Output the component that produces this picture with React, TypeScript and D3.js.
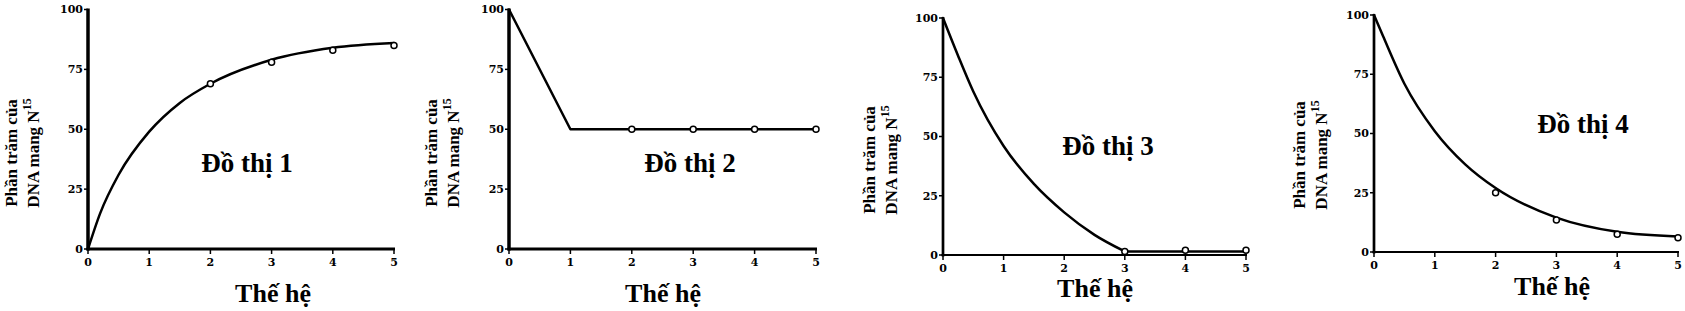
import React from "react";
import * as d3 from "d3";

// ---- data ----
const generations = [0, 1, 2, 3, 4, 5];
const yTicks = [0, 25, 50, 75, 100];
const yLabelLine1 = "Phần trăm của";
const yLabelLine2 = "DNA mang N";
const yLabelSup = "15";
const xLabel = "Thế hệ";
const titles = ["Đồ thị 1", "Đồ thị 2", "Đồ thị 3", "Đồ thị 4"];

// curve samples (generation, percent)
const curve1X = [0, 0.2, 0.5, 1, 1.5, 2, 3, 4, 5];
const curve1Y = [0, 15, 31, 49, 61, 69, 79, 84, 86];
const markers1X = [2, 3, 4, 5];
const markers1Y = [69, 78, 83, 85];

const curve2X = [0, 1, 2, 3, 4, 5];
const curve2Y = [100, 50, 50, 50, 50, 50];
const markers2X = [2, 3, 4, 5];
const markers2Y = [50, 50, 50, 50];

const curve3X = [0, 0.25, 0.5, 1, 1.5, 2, 2.5, 3, 4, 5];
const curve3Y = [100, 84, 69, 46, 30, 18, 8.5, 1.5, 1.5, 1.5];
const markers3X = [3, 4, 5];
const markers3Y = [1.5, 2, 2];

const curve4X = [0, 0.15, 0.5, 1, 1.5, 2, 3, 4, 5];
const curve4Y = [100, 91, 71, 51, 37, 27, 14.5, 8.5, 6.5];
const markers4X = [2, 3, 4, 5];
const markers4Y = [25, 13.5, 7.5, 6];

// ---- layout (per panel) ----
type Layout = {
  x0: number; x1: number; yTop: number; yBot: number;
  lab1X: number; lab2X: number; labY: number;
  titleX: number; titleY: number;
  xlabX: number; xlabY: number;
  linear: boolean; breakAt: number; axisW: number;
};

const layouts: Layout[] = [
  { x0: 88, x1: 394, yTop: 9.5, yBot: 249, lab1X: 11, lab2X: 33, labY: 153, titleX: 247, titleY: 172, xlabX: 273, xlabY: 302, linear: false, breakAt: 99, axisW: 3 },
  { x0: 509, x1: 816, yTop: 9.5, yBot: 249, lab1X: 431, lab2X: 453, labY: 153, titleX: 690, titleY: 172, xlabX: 663, xlabY: 302, linear: true, breakAt: 99, axisW: 3 },
  { x0: 943, x1: 1246, yTop: 18, yBot: 255, lab1X: 869, lab2X: 891, labY: 160, titleX: 1108, titleY: 155, xlabX: 1095, xlabY: 297, linear: false, breakAt: 3, axisW: 2.2 },
  { x0: 1374, x1: 1678, yTop: 15, yBot: 252, lab1X: 1299, lab2X: 1321, labY: 155, titleX: 1583, titleY: 133, xlabX: 1552, xlabY: 295, linear: false, breakAt: 99, axisW: 2.2 },
];

const series = [
  { cx: curve1X, cy: curve1Y, mx: markers1X, my: markers1Y },
  { cx: curve2X, cy: curve2Y, mx: markers2X, my: markers2Y },
  { cx: curve3X, cy: curve3Y, mx: markers3X, my: markers3Y },
  { cx: curve4X, cy: curve4Y, mx: markers4X, my: markers4Y },
];

const SERIF = "'Liberation Serif', 'Times New Roman', serif";
const TICKFONT = "'DejaVu Serif', serif";

function Panel({ L, s, title }: { L: Layout; s: typeof series[0]; title: string }) {
  const x = d3.scaleLinear().domain([0, 5]).range([L.x0, L.x1]);
  const y = d3.scaleLinear().domain([0, 100]).range([L.yBot, L.yTop]);
  const pts: [number, number][] = s.cx.map((v, i) => [v, s.cy[i]]);
  const smoothPts = pts.filter((p) => p[0] <= L.breakAt);
  const flatPts = pts.filter((p) => p[0] >= L.breakAt);
  const smooth = d3
    .line<[number, number]>()
    .x((d) => x(d[0]))
    .y((d) => y(d[1]))
    .curve(L.linear ? d3.curveLinear : d3.curveMonotoneX);
  const straight = d3
    .line<[number, number]>()
    .x((d) => x(d[0]))
    .y((d) => y(d[1]))
    .curve(d3.curveLinear);
  return (
    <g>
      {/* y axis */}
      <line x1={L.x0} x2={L.x0} y1={y(100) - 1} y2={y(0) + 1.5} stroke="#000" strokeWidth={L.axisW + 0.5} />
      {yTicks.map((t) => (
        <g key={"y" + t}>
          <line x1={L.x0 - 4} x2={L.x0} y1={y(t)} y2={y(t)} stroke="#000" strokeWidth={1.5} />
          <text x={L.x0 - 5} y={y(t)} dy="0.35em" textAnchor="end" fontFamily={TICKFONT} fontWeight="bold" fontSize={11}>
            {t}
          </text>
        </g>
      ))}
      {/* x axis */}
      <line x1={L.x0 - 1.5} x2={L.x1 + 1} y1={L.yBot} y2={L.yBot} stroke="#000" strokeWidth={L.axisW} />
      {generations.map((g) => (
        <g key={"x" + g}>
          <line x1={x(g)} x2={x(g)} y1={L.yBot} y2={L.yBot + 5} stroke="#000" strokeWidth={1.5} />
          <text x={x(g)} y={L.yBot + 17} textAnchor="middle" fontFamily={TICKFONT} fontWeight="bold" fontSize={11}>
            {g}
          </text>
        </g>
      ))}
      {/* curve */}
      <path d={smooth(smoothPts) || ""} fill="none" stroke="#000" strokeWidth={2.5} strokeLinejoin="round" strokeLinecap="round" />
      {flatPts.length > 1 && (
        <path d={straight(flatPts) || ""} fill="none" stroke="#000" strokeWidth={2.5} strokeLinejoin="round" />
      )}
      {s.mx.map((v, i) => (
        <circle key={"m" + i} cx={x(v)} cy={y(s.my[i])} r={3} fill="#fff" stroke="#000" strokeWidth={1.5} />
      ))}
      {/* y label */}
      <text
        transform={`translate(${L.lab1X},${L.labY}) rotate(-90)`}
        textAnchor="middle"
        dominantBaseline="central"
        fontFamily={SERIF}
        fontWeight="bold"
        fontSize={17}
      >
        {yLabelLine1}
      </text>
      <text
        transform={`translate(${L.lab2X},${L.labY}) rotate(-90)`}
        textAnchor="middle"
        dominantBaseline="central"
        fontFamily={SERIF}
        fontWeight="bold"
        fontSize={17}
      >
        {yLabelLine2}
        <tspan fontSize={12} dy={-6}>{yLabelSup}</tspan>
      </text>
      {/* title */}
      <text x={L.titleX} y={L.titleY} textAnchor="middle" fontFamily={SERIF} fontWeight="bold" fontSize={27}>
        {title}
      </text>
      {/* x label */}
      <text x={L.xlabX} y={L.xlabY} textAnchor="middle" fontFamily={SERIF} fontWeight="bold" fontSize={26}>
        {xLabel}
      </text>
    </g>
  );
}

export default function App() {
  return (
    <svg
      width={1685}
      height={311}
      style={{ position: "absolute", left: 0, top: 0, background: "#fff" }}
    >
      <rect x={0} y={0} width={1685} height={311} fill="#fff" />
      {layouts.map((L, i) => (
        <Panel key={i} L={L} s={series[i]} title={titles[i]} />
      ))}
    </svg>
  );
}
